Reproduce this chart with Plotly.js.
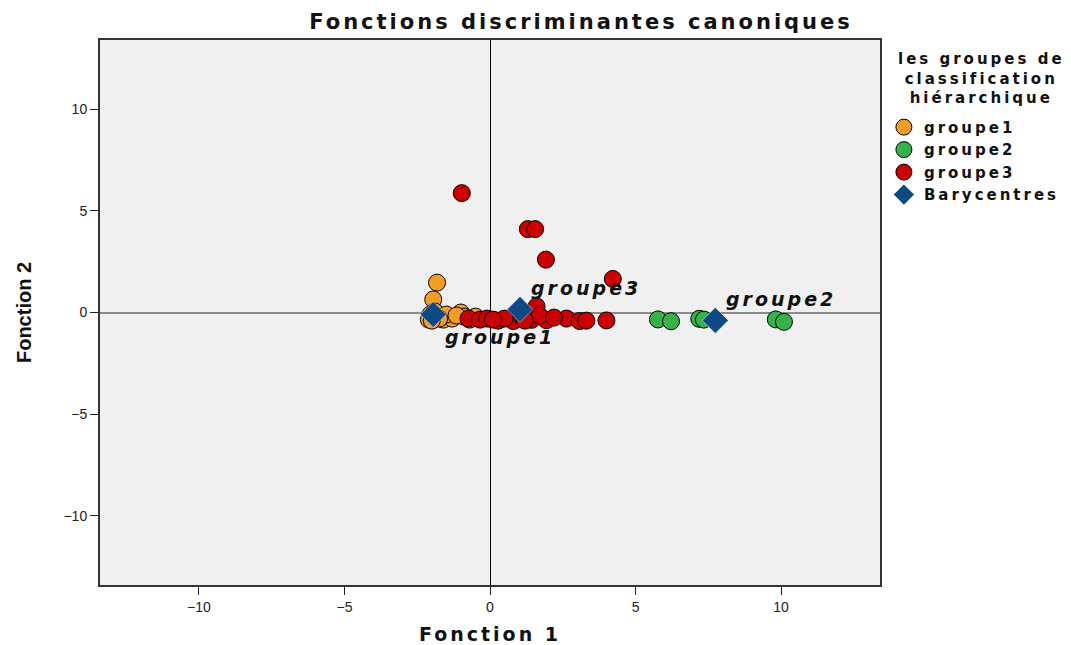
<!DOCTYPE html>
<html><head><meta charset="utf-8">
<script src="https://cdn.plot.ly/plotly-3.0.1.min.js"></script>
<style>
body{margin:0;background:#fff}#chart{width:1071px;height:645px}
.gtitle{letter-spacing:3px}
.annotation-text{letter-spacing:3px}
.legendtext{letter-spacing:3px}
.xtitle{letter-spacing:3px}
</style>
</head><body><div id="chart"></div>
<script>
// Group 1 (orange)
const g1x = [-1.82, -1.95, -2.05, -1.9, -2.1, -1.6, -1.3, -1.0, -0.9, -0.7, -1.5, -1.75, -1.15, -0.5, -2.0];
const g1y = [1.47, 0.64, -0.1, 0.05, -0.35, -0.35, -0.3, 0.0, -0.2, -0.35, -0.1, -0.3, -0.15, -0.2, -0.4];
// Group 2 (green)
const g2x = [5.77, 6.22, 7.19, 7.35, 9.82, 10.1];
const g2y = [-0.34, -0.43, -0.31, -0.35, -0.34, -0.46];
// Group 3 (red)
const g3x = [-0.97, 1.3, 1.55, 1.92, 4.22, 1.6, -0.74, -0.34, 0.28, 0.8, 1.43, 1.94, 2.63, 3.08, 3.31, 4.0, -0.1, 0.5, 1.1, 1.7, 2.2, 0.1, 1.2];
const g3y = [5.87, 4.1, 4.1, 2.6, 1.65, 0.3, -0.3, -0.35, -0.4, -0.42, -0.36, -0.38, -0.3, -0.42, -0.4, -0.39, -0.3, -0.3, -0.2, -0.15, -0.25, -0.35, -0.4];
// Barycentres
const bx = [-1.95, 7.74, 1.03];
const by = [-0.1, -0.39, 0.15];
const bLabels = ['groupe1', 'groupe2', 'groupe3'];
const labelShiftX = [67, 66, 66];
const labelShiftY = [-22, 21, 21];

const font = 'Liberation Sans, Arial, sans-serif';
const wfont = 'DejaVu Sans, Verdana, sans-serif';
const mk = (c) => ({size: 17, color: c, line: {color: '#000', width: 1}});

const traces = [
  {x: g1x, y: g1y, type: 'scatter', mode: 'markers', name: 'groupe1', marker: mk('#f59c22')},
  {x: g2x, y: g2y, type: 'scatter', mode: 'markers', name: 'groupe2', marker: mk('#36b24a')},
  {x: g3x, y: g3y, type: 'scatter', mode: 'markers', name: 'groupe3', marker: mk('#cc0000')},
  {x: bx, y: by, type: 'scatter', mode: 'markers', name: 'Barycentres',
   marker: {symbol: 'diamond', size: 20, color: '#0d4a85', line: {color: '#ffffff', width: 0.5}}}
];

const annotations = bx.map((v, i) => ({
  x: v, y: by[i], xref: 'x', yref: 'y', text: '<b><i>' + bLabels[i] + '</i></b>',
  showarrow: false, xshift: labelShiftX[i], yshift: labelShiftY[i],
  font: {family: wfont, size: 19, color: '#111'}
}));
annotations.push({
  xref: 'paper', yref: 'paper', x: 1.13, y: 0.985, xanchor: 'center', yanchor: 'top',
  text: '<b>les groupes de<br>classification<br>hiérarchique</b>', showarrow: false,
  font: {family: wfont, size: 15, color: '#111'}, align: 'center'
});

const layout = {
  width: 1071, height: 645,
  margin: {l: 100, r: 191, t: 40, b: 60, autoexpand: false},
  paper_bgcolor: '#ffffff', plot_bgcolor: '#f0f0f0',
  title: {text: '<b>Fonctions discriminantes canoniques</b>', x: 0.5425, xanchor: 'center', y: 0.966, yanchor: 'middle',
          font: {family: wfont, size: 21, color: '#111'}},
  xaxis: {range: [-13.4, 13.4], tickvals: [-10, -5, 0, 5, 10], ticks: 'outside', ticklen: 8,
          tickcolor: '#222', showgrid: false, zeroline: true, zerolinecolor: '#000', zerolinewidth: 1,
          showline: true, linecolor: '#333', linewidth: 2, mirror: true,
          tickfont: {family: font, size: 14, color: '#222'},
          title: {text: '<b>Fonction 1</b>', font: {family: wfont, size: 19, color: '#111'}, standoff: 14}},
  yaxis: {range: [-13.4, 13.4], tickvals: [-10, -5, 0, 5, 10], ticks: 'outside', ticklen: 8,
          tickcolor: '#222', showgrid: false, zeroline: true, zerolinecolor: '#8a8a8a', zerolinewidth: 2,
          showline: true, linecolor: '#333', linewidth: 2, mirror: true,
          tickfont: {family: font, size: 14, color: '#222'},
          title: {text: '<b>Fonction 2</b>', font: {family: font, size: 20, color: '#111'}, standoff: 26}},
  legend: {x: 1.005, y: 0.87, xanchor: 'left', yanchor: 'top', bgcolor: 'rgba(0,0,0,0)',
           font: {family: wfont, size: 15, color: '#111', weight: 'bold'}, tracegroupgap: 0},
  showlegend: true,
  annotations: annotations
};
Plotly.newPlot('chart', traces, layout, {displayModeBar: false, staticPlot: true});
</script></body></html>
